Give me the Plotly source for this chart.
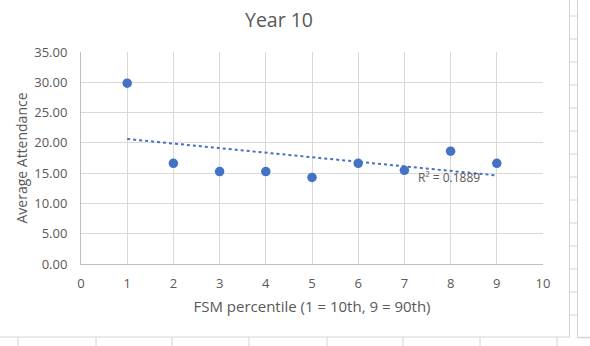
import numpy as np
import plotly.graph_objects as go

# Data
fsm_percentile = [1, 2, 3, 4, 5, 6, 7, 8, 9]
avg_attendance = [29.85, 16.63, 15.26, 15.26, 14.30, 16.63, 15.47, 18.62, 16.63]
y_ticks = [0, 5, 10, 15, 20, 25, 30, 35]
x_ticks = list(range(0, 11))
r2_label = "R² = 0.1889"

# Linear trendline computed from data
slope, intercept = np.polyfit(fsm_percentile, avg_attendance, 1)
trend_x = [fsm_percentile[0], fsm_percentile[-1]]
trend_y = [slope * v + intercept for v in trend_x]

FONT = "Open Sans"
TXT = "#595959"
BLUE = "#4472C4"
GRID = "#d9d9d9"

fig = go.Figure()
fig.add_trace(go.Scatter(x=trend_x, y=trend_y, mode="lines",
                         line=dict(color=BLUE, width=2, dash="dot"),
                         hoverinfo="skip", showlegend=False))
fig.add_trace(go.Scatter(x=fsm_percentile, y=avg_attendance, mode="markers",
                         marker=dict(color=BLUE, size=9.5),
                         showlegend=False))

fig.add_annotation(x=7.97, y=14.25, xref="x", yref="y", text=r2_label,
                   showarrow=False, font=dict(family=FONT, size=12, color=TXT))

# Spreadsheet cell borders around the chart (decoration)
L, W, B, H = 81, 462, 264, 212
def px(x):
    return (x - L) / W
def py(y):
    return (B - y) / H
CELL = "#d4d4d4"
shapes = []
shapes.append(dict(type="line", xref="paper", yref="paper", x0=px(0), x1=px(569.5), y0=py(337), y1=py(337), line=dict(color=CELL, width=1)))
shapes.append(dict(type="line", xref="paper", yref="paper", x0=px(577), x1=px(590), y0=py(337.5), y1=py(337.5), line=dict(color=CELL, width=1.5)))
shapes.append(dict(type="line", xref="paper", yref="paper", x0=px(569.5), x1=px(569.5), y0=py(0), y1=py(337), line=dict(color=CELL, width=1)))
shapes.append(dict(type="line", xref="paper", yref="paper", x0=px(577.5), x1=px(577.5), y0=py(0), y1=py(338), line=dict(color=CELL, width=1)))
for yy in [16, 39, 62, 85, 108, 131, 154, 177, 200, 223, 246, 269, 292, 315]:
    shapes.append(dict(type="line", xref="paper", yref="paper", x0=px(569.5), x1=px(577.5), y0=py(yy), y1=py(yy), line=dict(color=CELL, width=1)))
for xx in [18, 96, 172, 249, 327, 403, 480, 557]:
    shapes.append(dict(type="line", xref="paper", yref="paper", x0=px(xx), x1=px(xx), y0=py(337), y1=py(346), line=dict(color=CELL, width=1)))

fig.update_layout(
    width=590, height=346,
    margin=dict(l=81, r=47, t=52, b=82),
    paper_bgcolor="white", plot_bgcolor="white",
    font=dict(family=FONT, color=TXT, size=12),
    title=dict(text="Year 10", x=(279 - L) / W, xanchor="center", xref="paper",
               y=1 - 20 / 346, yanchor="middle", yref="container",
               font=dict(family=FONT, size=19.5, color=TXT)),
    shapes=shapes,
)
fig.update_xaxes(range=[0, 10], tickvals=x_ticks, showgrid=True, gridcolor=GRID, gridwidth=1,
                 showline=True, linecolor="#bfbfbf", linewidth=1, zeroline=False,
                 ticks="", ticklabelstandoff=7, tickfont=dict(family=FONT, size=13, color=TXT),
                 title=dict(text="FSM percentile (1 = 10th, 9 = 90th)", standoff=10,
                            font=dict(family=FONT, size=15, color=TXT)))
fig.update_yaxes(range=[0, 35], tickvals=y_ticks, tickformat=".2f", showgrid=True,
                 gridcolor=GRID, gridwidth=1, showline=True, linecolor="#bfbfbf",
                 linewidth=1, zeroline=False, ticks="", ticklabelstandoff=10,
                 tickfont=dict(family=FONT, size=13, color=TXT),
                 title=dict(text="Average Attendance", standoff=3,
                            font=dict(family=FONT, size=14, color=TXT)))

fig.write_html("out.html")
